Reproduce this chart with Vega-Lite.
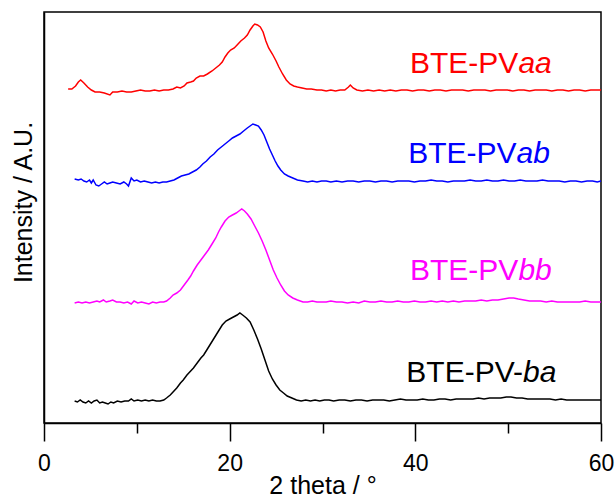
{
"$schema": "https://vega.github.io/schema/vega-lite/v6.json",
"width": 557, "height": 411,
"autosize": {"type": "none"},
"padding": {"left": 44, "top": 12, "right": 14, "bottom": 74},
"background": "white",
"config": {"view": {"stroke": "black", "strokeWidth": 1.5}, "font": "Liberation Sans"},
"datasets": {
"xrd": [
{"s":"aa","x":2.6,"y":334},{"s":"aa","x":3.0,"y":334},{"s":"aa","x":3.4,"y":337},{"s":"aa","x":3.7,"y":341},{"s":"aa","x":3.95,"y":343},{"s":"aa","x":4.3,"y":340},{"s":"aa","x":4.7,"y":336},{"s":"aa","x":5.1,"y":333},{"s":"aa","x":5.5,"y":331},{"s":"aa","x":6.0,"y":331},{"s":"aa","x":6.5,"y":330},{"s":"aa","x":7.1,"y":328},{"s":"aa","x":7.4,"y":331},{"s":"aa","x":7.9,"y":331},{"s":"aa","x":8.4,"y":332},{"s":"aa","x":8.9,"y":331},{"s":"aa","x":9.4,"y":331},{"s":"aa","x":9.9,"y":332},{"s":"aa","x":10.4,"y":333},{"s":"aa","x":10.9,"y":332},{"s":"aa","x":11.4,"y":332},{"s":"aa","x":11.9,"y":333},{"s":"aa","x":12.4,"y":332},{"s":"aa","x":12.9,"y":333},{"s":"aa","x":13.4,"y":333},{"s":"aa","x":13.9,"y":334},{"s":"aa","x":14.3,"y":336},{"s":"aa","x":14.7,"y":335},{"s":"aa","x":15.1,"y":337},{"s":"aa","x":15.4,"y":340},{"s":"aa","x":15.8,"y":341},{"s":"aa","x":16.1,"y":342},{"s":"aa","x":16.4,"y":345},{"s":"aa","x":16.8,"y":347},{"s":"aa","x":17.2,"y":347},{"s":"aa","x":17.6,"y":349},{"s":"aa","x":18.1,"y":352},{"s":"aa","x":18.5,"y":355},{"s":"aa","x":18.9,"y":358},{"s":"aa","x":19.2,"y":361},{"s":"aa","x":19.5,"y":366},{"s":"aa","x":19.8,"y":370},{"s":"aa","x":20.1,"y":373},{"s":"aa","x":20.5,"y":375},{"s":"aa","x":20.9,"y":379},{"s":"aa","x":21.2,"y":382},{"s":"aa","x":21.6,"y":385},{"s":"aa","x":21.9,"y":388},{"s":"aa","x":22.2,"y":393},{"s":"aa","x":22.5,"y":397},{"s":"aa","x":22.7,"y":399},{"s":"aa","x":23.0,"y":398},{"s":"aa","x":23.3,"y":396},{"s":"aa","x":23.6,"y":391},{"s":"aa","x":23.9,"y":382},{"s":"aa","x":24.2,"y":375},{"s":"aa","x":24.6,"y":369},{"s":"aa","x":25.0,"y":362},{"s":"aa","x":25.3,"y":356},{"s":"aa","x":25.7,"y":349},{"s":"aa","x":26.1,"y":343},{"s":"aa","x":26.5,"y":339},{"s":"aa","x":26.9,"y":337},{"s":"aa","x":27.3,"y":336},{"s":"aa","x":27.8,"y":335},{"s":"aa","x":28.3,"y":334},{"s":"aa","x":28.8,"y":334},{"s":"aa","x":29.4,"y":333},{"s":"aa","x":29.9,"y":333},{"s":"aa","x":30.4,"y":332},{"s":"aa","x":30.9,"y":333},{"s":"aa","x":31.4,"y":332},{"s":"aa","x":31.9,"y":333},{"s":"aa","x":32.4,"y":333},{"s":"aa","x":32.8,"y":336},{"s":"aa","x":33.0,"y":338},{"s":"aa","x":33.3,"y":335},{"s":"aa","x":33.7,"y":333},{"s":"aa","x":34.3,"y":332},{"s":"aa","x":34.9,"y":333},{"s":"aa","x":35.5,"y":332},{"s":"aa","x":36.1,"y":333},{"s":"aa","x":36.7,"y":332},{"s":"aa","x":37.3,"y":333},{"s":"aa","x":37.9,"y":332},{"s":"aa","x":38.5,"y":333},{"s":"aa","x":39.1,"y":333},{"s":"aa","x":39.7,"y":332},{"s":"aa","x":40.3,"y":333},{"s":"aa","x":40.9,"y":333},{"s":"aa","x":41.5,"y":332},{"s":"aa","x":42.1,"y":333},{"s":"aa","x":42.7,"y":333},{"s":"aa","x":43.3,"y":332},{"s":"aa","x":43.9,"y":333},{"s":"aa","x":44.5,"y":333},{"s":"aa","x":45.1,"y":333},{"s":"aa","x":45.7,"y":332},{"s":"aa","x":46.3,"y":333},{"s":"aa","x":46.9,"y":333},{"s":"aa","x":47.5,"y":333},{"s":"aa","x":48.1,"y":332},{"s":"aa","x":48.7,"y":333},{"s":"aa","x":49.3,"y":333},{"s":"aa","x":49.9,"y":333},{"s":"aa","x":50.5,"y":332},{"s":"aa","x":51.1,"y":333},{"s":"aa","x":51.7,"y":333},{"s":"aa","x":52.3,"y":332},{"s":"aa","x":52.9,"y":333},{"s":"aa","x":53.5,"y":333},{"s":"aa","x":54.1,"y":333},{"s":"aa","x":54.7,"y":332},{"s":"aa","x":55.3,"y":333},{"s":"aa","x":55.9,"y":333},{"s":"aa","x":56.5,"y":332},{"s":"aa","x":57.1,"y":333},{"s":"aa","x":57.7,"y":333},{"s":"aa","x":58.3,"y":332},{"s":"aa","x":58.9,"y":333},{"s":"aa","x":59.5,"y":333},{"s":"aa","x":60.0,"y":333},
{"s":"ab","x":3.3,"y":244},{"s":"ab","x":3.7,"y":243},{"s":"ab","x":4.0,"y":244},{"s":"ab","x":4.3,"y":242},{"s":"ab","x":4.6,"y":241},{"s":"ab","x":4.9,"y":243},{"s":"ab","x":5.1,"y":240},{"s":"ab","x":5.3,"y":243},{"s":"ab","x":5.6,"y":238},{"s":"ab","x":5.9,"y":237},{"s":"ab","x":6.2,"y":239},{"s":"ab","x":6.5,"y":241},{"s":"ab","x":6.8,"y":239},{"s":"ab","x":7.1,"y":240},{"s":"ab","x":7.4,"y":241},{"s":"ab","x":7.8,"y":240},{"s":"ab","x":8.2,"y":239},{"s":"ab","x":8.6,"y":241},{"s":"ab","x":8.9,"y":239},{"s":"ab","x":9.1,"y":237},{"s":"ab","x":9.4,"y":245},{"s":"ab","x":9.7,"y":242},{"s":"ab","x":10.0,"y":243},{"s":"ab","x":10.4,"y":241},{"s":"ab","x":10.8,"y":242},{"s":"ab","x":11.2,"y":241},{"s":"ab","x":11.6,"y":240},{"s":"ab","x":12.0,"y":241},{"s":"ab","x":12.4,"y":240},{"s":"ab","x":12.8,"y":241},{"s":"ab","x":13.2,"y":241},{"s":"ab","x":13.6,"y":242},{"s":"ab","x":14.0,"y":243},{"s":"ab","x":14.4,"y":245},{"s":"ab","x":14.8,"y":247},{"s":"ab","x":15.2,"y":248},{"s":"ab","x":15.6,"y":249},{"s":"ab","x":16.0,"y":251},{"s":"ab","x":16.4,"y":253},{"s":"ab","x":16.8,"y":256},{"s":"ab","x":17.1,"y":259},{"s":"ab","x":17.5,"y":262},{"s":"ab","x":17.9,"y":266},{"s":"ab","x":18.3,"y":269},{"s":"ab","x":18.7,"y":273},{"s":"ab","x":19.1,"y":276},{"s":"ab","x":19.5,"y":279},{"s":"ab","x":19.9,"y":282},{"s":"ab","x":20.3,"y":285},{"s":"ab","x":20.7,"y":287},{"s":"ab","x":21.1,"y":289},{"s":"ab","x":21.5,"y":292},{"s":"ab","x":21.9,"y":295},{"s":"ab","x":22.2,"y":297},{"s":"ab","x":22.5,"y":299},{"s":"ab","x":22.8,"y":298},{"s":"ab","x":23.1,"y":297},{"s":"ab","x":23.4,"y":293},{"s":"ab","x":23.7,"y":288},{"s":"ab","x":24.0,"y":281},{"s":"ab","x":24.3,"y":274},{"s":"ab","x":24.6,"y":268},{"s":"ab","x":24.9,"y":262},{"s":"ab","x":25.2,"y":257},{"s":"ab","x":25.5,"y":253},{"s":"ab","x":25.9,"y":249},{"s":"ab","x":26.3,"y":247},{"s":"ab","x":26.8,"y":245},{"s":"ab","x":27.3,"y":243},{"s":"ab","x":27.9,"y":242},{"s":"ab","x":28.4,"y":241},{"s":"ab","x":28.9,"y":242},{"s":"ab","x":29.4,"y":241},{"s":"ab","x":29.9,"y":242},{"s":"ab","x":30.4,"y":242},{"s":"ab","x":30.9,"y":241},{"s":"ab","x":31.5,"y":242},{"s":"ab","x":32.1,"y":241},{"s":"ab","x":32.7,"y":242},{"s":"ab","x":33.3,"y":242},{"s":"ab","x":33.9,"y":241},{"s":"ab","x":34.5,"y":242},{"s":"ab","x":35.1,"y":242},{"s":"ab","x":35.7,"y":241},{"s":"ab","x":36.3,"y":242},{"s":"ab","x":36.9,"y":242},{"s":"ab","x":37.5,"y":241},{"s":"ab","x":38.1,"y":242},{"s":"ab","x":38.7,"y":242},{"s":"ab","x":39.3,"y":242},{"s":"ab","x":39.9,"y":241},{"s":"ab","x":40.5,"y":242},{"s":"ab","x":41.1,"y":242},{"s":"ab","x":41.7,"y":243},{"s":"ab","x":42.3,"y":242},{"s":"ab","x":42.9,"y":242},{"s":"ab","x":43.5,"y":241},{"s":"ab","x":44.1,"y":242},{"s":"ab","x":44.7,"y":242},{"s":"ab","x":45.3,"y":242},{"s":"ab","x":45.9,"y":243},{"s":"ab","x":46.5,"y":242},{"s":"ab","x":47.1,"y":242},{"s":"ab","x":47.7,"y":243},{"s":"ab","x":48.3,"y":242},{"s":"ab","x":48.9,"y":242},{"s":"ab","x":49.5,"y":243},{"s":"ab","x":50.1,"y":242},{"s":"ab","x":50.7,"y":242},{"s":"ab","x":51.3,"y":243},{"s":"ab","x":51.9,"y":242},{"s":"ab","x":52.5,"y":242},{"s":"ab","x":53.1,"y":242},{"s":"ab","x":53.7,"y":243},{"s":"ab","x":54.3,"y":242},{"s":"ab","x":54.9,"y":242},{"s":"ab","x":55.5,"y":242},{"s":"ab","x":56.1,"y":241},{"s":"ab","x":56.7,"y":242},{"s":"ab","x":57.3,"y":242},{"s":"ab","x":57.9,"y":241},{"s":"ab","x":58.5,"y":242},{"s":"ab","x":59.1,"y":242},{"s":"ab","x":59.6,"y":241},{"s":"ab","x":60.0,"y":242},
{"s":"bb","x":3.3,"y":120},{"s":"bb","x":3.7,"y":121},{"s":"bb","x":4.1,"y":120},{"s":"bb","x":4.5,"y":121},{"s":"bb","x":4.9,"y":120},{"s":"bb","x":5.3,"y":121},{"s":"bb","x":5.7,"y":122},{"s":"bb","x":6.0,"y":121},{"s":"bb","x":6.4,"y":123},{"s":"bb","x":6.7,"y":121},{"s":"bb","x":7.1,"y":122},{"s":"bb","x":7.4,"y":123},{"s":"bb","x":7.8,"y":121},{"s":"bb","x":8.2,"y":121},{"s":"bb","x":8.6,"y":120},{"s":"bb","x":9.0,"y":121},{"s":"bb","x":9.4,"y":119},{"s":"bb","x":9.7,"y":122},{"s":"bb","x":10.1,"y":120},{"s":"bb","x":10.5,"y":121},{"s":"bb","x":10.9,"y":120},{"s":"bb","x":11.3,"y":119},{"s":"bb","x":11.7,"y":121},{"s":"bb","x":12.1,"y":120},{"s":"bb","x":12.5,"y":121},{"s":"bb","x":12.9,"y":121},{"s":"bb","x":13.2,"y":122},{"s":"bb","x":13.6,"y":125},{"s":"bb","x":13.9,"y":128},{"s":"bb","x":14.3,"y":130},{"s":"bb","x":14.7,"y":133},{"s":"bb","x":15.1,"y":138},{"s":"bb","x":15.5,"y":143},{"s":"bb","x":15.8,"y":147},{"s":"bb","x":16.1,"y":152},{"s":"bb","x":16.5,"y":158},{"s":"bb","x":16.9,"y":163},{"s":"bb","x":17.3,"y":168},{"s":"bb","x":17.7,"y":173},{"s":"bb","x":18.1,"y":179},{"s":"bb","x":18.5,"y":185},{"s":"bb","x":18.8,"y":191},{"s":"bb","x":19.1,"y":196},{"s":"bb","x":19.5,"y":202},{"s":"bb","x":19.9,"y":206},{"s":"bb","x":20.3,"y":208},{"s":"bb","x":20.7,"y":210},{"s":"bb","x":21.0,"y":212},{"s":"bb","x":21.3,"y":214},{"s":"bb","x":21.6,"y":212},{"s":"bb","x":21.9,"y":209},{"s":"bb","x":22.3,"y":204},{"s":"bb","x":22.7,"y":197},{"s":"bb","x":23.1,"y":190},{"s":"bb","x":23.5,"y":182},{"s":"bb","x":23.9,"y":173},{"s":"bb","x":24.3,"y":163},{"s":"bb","x":24.7,"y":153},{"s":"bb","x":25.1,"y":145},{"s":"bb","x":25.5,"y":138},{"s":"bb","x":25.9,"y":132},{"s":"bb","x":26.3,"y":128},{"s":"bb","x":26.8,"y":125},{"s":"bb","x":27.3,"y":123},{"s":"bb","x":27.9,"y":121},{"s":"bb","x":28.4,"y":121},{"s":"bb","x":28.9,"y":122},{"s":"bb","x":29.4,"y":121},{"s":"bb","x":29.9,"y":121},{"s":"bb","x":30.4,"y":121},{"s":"bb","x":30.9,"y":122},{"s":"bb","x":31.5,"y":121},{"s":"bb","x":32.1,"y":121},{"s":"bb","x":32.7,"y":120},{"s":"bb","x":33.3,"y":121},{"s":"bb","x":33.9,"y":120},{"s":"bb","x":34.5,"y":122},{"s":"bb","x":35.1,"y":121},{"s":"bb","x":35.7,"y":121},{"s":"bb","x":36.3,"y":122},{"s":"bb","x":36.9,"y":121},{"s":"bb","x":37.5,"y":121},{"s":"bb","x":38.1,"y":122},{"s":"bb","x":38.7,"y":121},{"s":"bb","x":39.3,"y":121},{"s":"bb","x":39.9,"y":122},{"s":"bb","x":40.5,"y":121},{"s":"bb","x":41.1,"y":121},{"s":"bb","x":41.7,"y":122},{"s":"bb","x":42.3,"y":121},{"s":"bb","x":42.9,"y":122},{"s":"bb","x":43.5,"y":121},{"s":"bb","x":44.1,"y":122},{"s":"bb","x":44.7,"y":121},{"s":"bb","x":45.3,"y":122},{"s":"bb","x":45.9,"y":122},{"s":"bb","x":46.5,"y":122},{"s":"bb","x":47.1,"y":123},{"s":"bb","x":47.7,"y":122},{"s":"bb","x":48.3,"y":123},{"s":"bb","x":48.9,"y":123},{"s":"bb","x":49.5,"y":124},{"s":"bb","x":50.1,"y":125},{"s":"bb","x":50.6,"y":125},{"s":"bb","x":51.1,"y":124},{"s":"bb","x":51.7,"y":123},{"s":"bb","x":52.3,"y":122},{"s":"bb","x":52.9,"y":122},{"s":"bb","x":53.5,"y":122},{"s":"bb","x":54.1,"y":121},{"s":"bb","x":54.7,"y":122},{"s":"bb","x":55.3,"y":121},{"s":"bb","x":55.9,"y":121},{"s":"bb","x":56.5,"y":121},{"s":"bb","x":57.1,"y":121},{"s":"bb","x":57.7,"y":121},{"s":"bb","x":58.3,"y":122},{"s":"bb","x":58.9,"y":121},{"s":"bb","x":59.5,"y":121},{"s":"bb","x":60.0,"y":121},
{"s":"ba","x":3.3,"y":22},{"s":"ba","x":3.6,"y":21},{"s":"ba","x":3.9,"y":23},{"s":"ba","x":4.2,"y":21},{"s":"ba","x":4.5,"y":20},{"s":"ba","x":4.8,"y":22},{"s":"ba","x":5.1,"y":20},{"s":"ba","x":5.4,"y":22},{"s":"ba","x":5.7,"y":23},{"s":"ba","x":6.0,"y":20},{"s":"ba","x":6.3,"y":21},{"s":"ba","x":6.6,"y":20},{"s":"ba","x":6.9,"y":19},{"s":"ba","x":7.2,"y":21},{"s":"ba","x":7.5,"y":20},{"s":"ba","x":7.9,"y":22},{"s":"ba","x":8.3,"y":21},{"s":"ba","x":8.7,"y":22},{"s":"ba","x":9.1,"y":22},{"s":"ba","x":9.4,"y":24},{"s":"ba","x":9.7,"y":22},{"s":"ba","x":10.1,"y":23},{"s":"ba","x":10.5,"y":22},{"s":"ba","x":10.9,"y":23},{"s":"ba","x":11.3,"y":22},{"s":"ba","x":11.7,"y":23},{"s":"ba","x":12.1,"y":22},{"s":"ba","x":12.5,"y":22},{"s":"ba","x":12.9,"y":23},{"s":"ba","x":13.2,"y":25},{"s":"ba","x":13.6,"y":28},{"s":"ba","x":13.9,"y":31},{"s":"ba","x":14.3,"y":35},{"s":"ba","x":14.7,"y":40},{"s":"ba","x":15.0,"y":43},{"s":"ba","x":15.4,"y":48},{"s":"ba","x":15.8,"y":52},{"s":"ba","x":16.1,"y":55},{"s":"ba","x":16.5,"y":60},{"s":"ba","x":16.9,"y":65},{"s":"ba","x":17.2,"y":68},{"s":"ba","x":17.6,"y":74},{"s":"ba","x":18.0,"y":80},{"s":"ba","x":18.4,"y":86},{"s":"ba","x":18.8,"y":92},{"s":"ba","x":19.2,"y":98},{"s":"ba","x":19.6,"y":102},{"s":"ba","x":20.0,"y":104},{"s":"ba","x":20.4,"y":106},{"s":"ba","x":20.8,"y":108},{"s":"ba","x":21.1,"y":110},{"s":"ba","x":21.4,"y":108},{"s":"ba","x":21.8,"y":105},{"s":"ba","x":22.2,"y":101},{"s":"ba","x":22.6,"y":93},{"s":"ba","x":23.0,"y":84},{"s":"ba","x":23.4,"y":74},{"s":"ba","x":23.8,"y":63},{"s":"ba","x":24.2,"y":52},{"s":"ba","x":24.6,"y":44},{"s":"ba","x":25.0,"y":38},{"s":"ba","x":25.4,"y":33},{"s":"ba","x":25.8,"y":30},{"s":"ba","x":26.2,"y":27},{"s":"ba","x":26.7,"y":25},{"s":"ba","x":27.2,"y":23},{"s":"ba","x":27.7,"y":22},{"s":"ba","x":28.2,"y":23},{"s":"ba","x":28.7,"y":22},{"s":"ba","x":29.2,"y":23},{"s":"ba","x":29.7,"y":22},{"s":"ba","x":30.2,"y":23},{"s":"ba","x":30.7,"y":23},{"s":"ba","x":31.2,"y":22},{"s":"ba","x":31.8,"y":23},{"s":"ba","x":32.4,"y":23},{"s":"ba","x":33.0,"y":22},{"s":"ba","x":33.6,"y":23},{"s":"ba","x":34.2,"y":23},{"s":"ba","x":34.8,"y":22},{"s":"ba","x":35.4,"y":23},{"s":"ba","x":36.0,"y":23},{"s":"ba","x":36.6,"y":23},{"s":"ba","x":37.2,"y":22},{"s":"ba","x":37.8,"y":23},{"s":"ba","x":38.4,"y":24},{"s":"ba","x":39.0,"y":23},{"s":"ba","x":39.6,"y":23},{"s":"ba","x":40.2,"y":23},{"s":"ba","x":40.8,"y":24},{"s":"ba","x":41.4,"y":23},{"s":"ba","x":42.0,"y":23},{"s":"ba","x":42.6,"y":24},{"s":"ba","x":43.2,"y":24},{"s":"ba","x":43.8,"y":23},{"s":"ba","x":44.4,"y":24},{"s":"ba","x":45.0,"y":24},{"s":"ba","x":45.6,"y":24},{"s":"ba","x":46.2,"y":24},{"s":"ba","x":46.8,"y":25},{"s":"ba","x":47.4,"y":24},{"s":"ba","x":48.0,"y":25},{"s":"ba","x":48.6,"y":25},{"s":"ba","x":49.2,"y":25},{"s":"ba","x":49.8,"y":26},{"s":"ba","x":50.3,"y":26},{"s":"ba","x":50.9,"y":25},{"s":"ba","x":51.5,"y":25},{"s":"ba","x":52.1,"y":24},{"s":"ba","x":52.7,"y":24},{"s":"ba","x":53.3,"y":24},{"s":"ba","x":53.9,"y":24},{"s":"ba","x":54.5,"y":24},{"s":"ba","x":55.1,"y":23},{"s":"ba","x":55.7,"y":24},{"s":"ba","x":56.3,"y":23},{"s":"ba","x":56.9,"y":23},{"s":"ba","x":57.5,"y":23},{"s":"ba","x":58.1,"y":23},{"s":"ba","x":58.7,"y":23},{"s":"ba","x":59.3,"y":23},{"s":"ba","x":60.0,"y":23}
],
"labels": [
{"s":"aa","prefix":"BTE-PV","suffix":"aa","x":51.1,"y":350},
{"s":"ab","prefix":"BTE-PV","suffix":"ab","x":50.9,"y":260},
{"s":"bb","prefix":"BTE-PV","suffix":"bb","x":51.1,"y":143},
{"s":"ba","prefix":"BTE-PV-","suffix":"ba","x":51.6,"y":41}
]
},
"layer": [
{
"data": {"name": "xrd"},
"mark": {"type": "line", "strokeWidth": 1.5, "clip": true},
"encoding": {
"x": {"field": "x", "type": "quantitative", "scale": {"domain": [0, 60], "nice": false},
"axis": {"values": [0, 10, 20, 30, 40, 50, 60], "labelExpr": "datum.value % 20 === 0 ? datum.label : ''",
"tickSize": {"condition": {"test": "datum.value % 20 === 0", "value": 18}, "value": 10},
"grid": false, "domainColor": "black", "domainWidth": 1.5, "tickColor": "black", "tickWidth": 1.5,
"labelFontSize": 23, "labelColor": "black", "labelPadding": 29, "labelBaseline": "alphabetic", "labelFlush": false,
"title": "2 theta / °", "titleFontSize": 25, "titleFontWeight": "normal", "titleColor": "black",
"titleY": 70, "titleBaseline": "alphabetic"}},
"y": {"field": "y", "type": "quantitative", "scale": {"domain": [0, 411], "nice": false, "zero": false},
"axis": {"ticks": false, "labels": false, "grid": false, "domainColor": "black", "domainWidth": 1.5,
"title": "Intensity / A.U.", "titleFontSize": 25, "titleFontWeight": "normal", "titleColor": "black",
"titleX": -13, "titleY": 190, "titleAngle": -90, "titleAlign": "center", "titleBaseline": "alphabetic"}},
"color": {"field": "s", "type": "nominal", "scale": {"domain": ["aa", "ab", "bb", "ba"], "range": ["#ff0000", "#0000ff", "#ff00ff", "#000000"]}, "legend": null}
}
},
{
"data": {"name": "labels"},
"mark": {"type": "text", "align": "right", "baseline": "alphabetic", "fontSize": 30},
"encoding": {
"x": {"field": "x", "type": "quantitative"},
"y": {"field": "y", "type": "quantitative"},
"text": {"field": "prefix"},
"color": {"field": "s", "type": "nominal", "legend": null}
}
},
{
"data": {"name": "labels"},
"mark": {"type": "text", "align": "left", "baseline": "alphabetic", "fontSize": 30, "fontStyle": "italic"},
"encoding": {
"x": {"field": "x", "type": "quantitative"},
"y": {"field": "y", "type": "quantitative"},
"text": {"field": "suffix"},
"color": {"field": "s", "type": "nominal", "legend": null}
}
}
]
}
